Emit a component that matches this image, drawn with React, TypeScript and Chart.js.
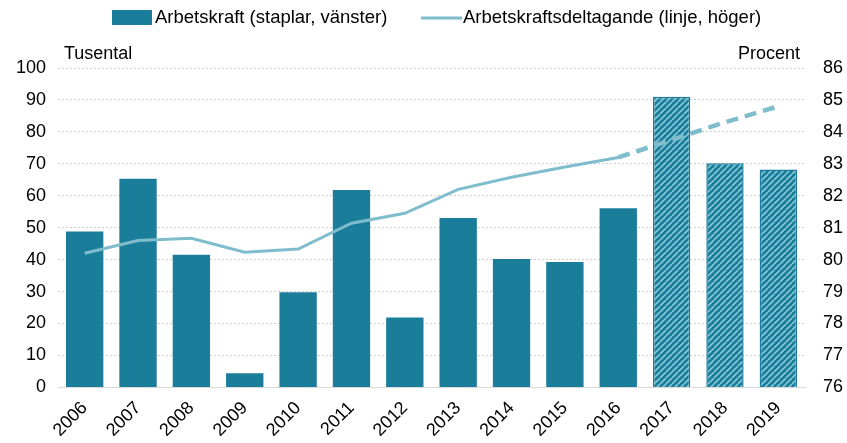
import React, { useEffect, useRef } from "react";
import { Chart, registerables } from "chart.js";
Chart.register(...registerables);

const years = ["2006","2007","2008","2009","2010","2011","2012","2013","2014","2015","2016","2017","2018","2019"];
const arbetskraft = [48.8, 65.3, 41.5, 4.4, 29.8, 61.8, 21.9, 53.0, 40.2, 39.3, 56.1, 91.0, 70.2, 68.2];
const deltagande = [80.2, 80.6, 80.67, 80.23, 80.33, 81.14, 81.45, 82.2, 82.58, 82.9, 83.2, 83.75, 84.3, 84.8];
const forecastFrom = 11; // index of first forecast year
const leftTicks = [0, 10, 20, 30, 40, 50, 60, 70, 80, 90, 100];
const rightTicks = [76, 77, 78, 79, 80, 81, 82, 83, 84, 85, 86];

const BAR = "#1A7E9B";
const LINE = "#7FBDCD";
const FONT = "'Liberation Sans', Arial, sans-serif";

function makePattern(): CanvasPattern | string {
  const c = document.createElement("canvas");
  c.width = 6; c.height = 6;
  const g = c.getContext("2d");
  if (!g) return BAR;
  g.fillStyle = BAR;
  g.fillRect(0, 0, 6, 6);
  g.strokeStyle = "#86C6D6";
  g.lineWidth = 1.6;
  g.beginPath();
  for (let k = -6; k <= 12; k += 6) {
    g.moveTo(k, 6);
    g.lineTo(k + 6, 0);
  }
  g.stroke();
  return g.createPattern(c, "repeat") || BAR;
}

export default function App() {
  const ref = useRef<HTMLCanvasElement>(null);
  useEffect(() => {
    document.body.style.margin = "0";
    const pat = makePattern();
    const overlay = {
      id: "overlay",
      afterDraw(chart: any) {
        const ctx = chart.ctx;
        ctx.save();
        ctx.font = `18px ${FONT}`;
        ctx.fillStyle = "#000";
        ctx.textBaseline = "middle";
        ctx.textAlign = "left";
        ctx.fillText("Tusental", 64, 54);
        ctx.textAlign = "right";
        ctx.fillText("Procent", 800, 54);
        // legend
        ctx.font = `18.5px ${FONT}`;
        ctx.textAlign = "left";
        ctx.fillStyle = BAR;
        ctx.fillRect(112, 10, 40, 15);
        ctx.fillStyle = "#000";
        ctx.fillText("Arbetskraft (staplar, vänster)", 155, 18);
        ctx.strokeStyle = LINE;
        ctx.lineWidth = 3;
        ctx.beginPath();
        ctx.moveTo(421, 18);
        ctx.lineTo(462, 18);
        ctx.stroke();
        ctx.fillStyle = "#000";
        ctx.fillText("Arbetskraftsdeltagande (linje, höger)", 463, 18);
        ctx.restore();
      },
    };
    const chart = new Chart(ref.current!, {
      data: {
        labels: years,
        datasets: [
          {
            type: "line",
            label: "Arbetskraftsdeltagande (linje, höger)",
            data: deltagande,
            yAxisID: "y1",
            borderColor: LINE,
            borderWidth: 3,
            pointRadius: 0,
            tension: 0,
            segment: {
              borderDash: (c: any) => (c.p1DataIndex > forecastFrom - 1 ? [12, 7] : undefined),
              borderWidth: (c: any) => (c.p1DataIndex > forecastFrom - 1 ? 4.5 : 3),
            },
            order: 0,
          } as any,
          {
            type: "bar",
            label: "Arbetskraft (staplar, vänster)",
            data: arbetskraft,
            yAxisID: "y",
            backgroundColor: arbetskraft.map((_, i) => (i >= forecastFrom ? pat : BAR)) as any,
            borderColor: BAR,
            borderWidth: arbetskraft.map((_, i) => (i >= forecastFrom ? 1.5 : 0)) as any,
            categoryPercentage: 1,
            barPercentage: 0.7,
            order: 1,
          } as any,
        ],
      },
      options: {
        animation: false,
        responsive: false,
        maintainAspectRatio: false,
        layout: { padding: { left: 0, right: 0, top: 68, bottom: 0 } },
        plugins: { legend: { display: false }, tooltip: { enabled: false } },
        scales: {
          x: {
            grid: { display: false },
            border: { display: true, color: "#d9d9d9" },
            ticks: {
              color: "#000",
              font: { family: FONT, size: 18 },
              maxRotation: 45,
              minRotation: 45,
              padding: 2,
            },
          },
          y: {
            position: "left",
            min: 0,
            max: 100,
            afterBuildTicks: (s: any) => { s.ticks = leftTicks.map((v) => ({ value: v })); },
            afterFit: (s: any) => { s.width = 58; },
            grid: { color: "#d0d0d0", lineWidth: 1, drawTicks: false } as any,
            border: { display: false, dash: [2, 2] },
            ticks: { color: "#000", font: { family: FONT, size: 18 }, padding: 12 },
          },
          y1: {
            position: "right",
            min: 76,
            max: 86,
            afterBuildTicks: (s: any) => { s.ticks = rightTicks.map((v) => ({ value: v })); },
            afterFit: (s: any) => { s.width = 42; },
            grid: { display: false },
            border: { display: false },
            ticks: { color: "#000", font: { family: FONT, size: 18 }, padding: 10 },
          },
        },
      } as any,
      plugins: [overlay],
    });
    return () => chart.destroy();
  }, []);
  return (
    <div style={{ width: 847, height: 443 }}>
      <canvas ref={ref} width={847} height={443} style={{ width: 847, height: 443 }} />
    </div>
  );
}
